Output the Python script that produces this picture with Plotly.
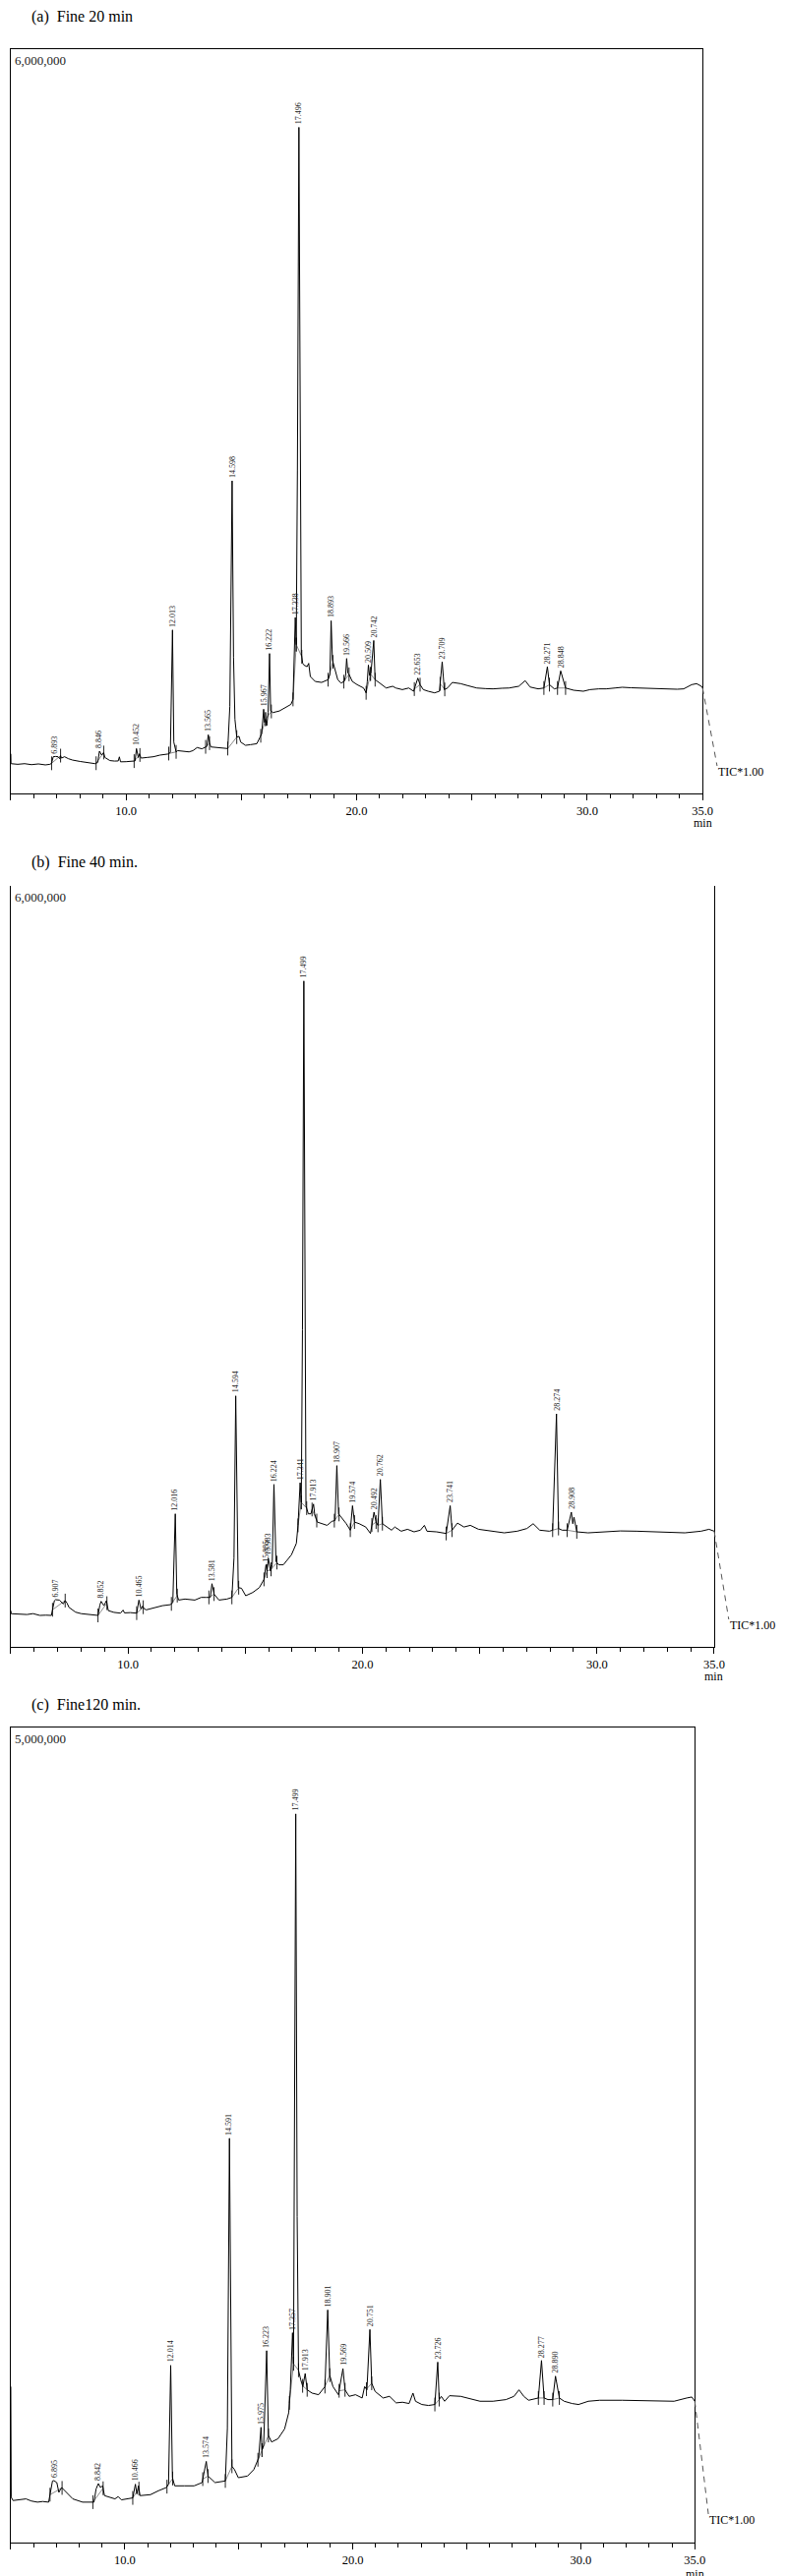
import numpy as np
import plotly.graph_objects as go

W, H = 800, 2620
SERIF = "Liberation Serif, 'Times New Roman', serif"

# TIC chromatograms: (retention time [min], intensity [x1000 counts])
fine20 = [
    (5.00, 320), (5.01, 240), (5.30, 235), (5.60, 240), (5.90, 232), (6.20, 238), (6.50, 230),
    (6.70, 235), (6.77, 243), (6.84, 296), (6.95, 298), (7.05, 296), (7.12, 280), (7.16, 305),
    (7.20, 285), (7.33, 296), (7.50, 280), (7.68, 269), (8.00, 258), (8.30, 252), (8.66, 240),
    (8.77, 250), (8.846, 341), (8.94, 309), (9.03, 330), (9.08, 290), (9.30, 265), (9.50, 261),
    (9.66, 262), (9.71, 295), (9.76, 255), (10.00, 256), (10.27, 258), (10.39, 262), (10.452, 362),
    (10.53, 290), (10.58, 320), (10.65, 285), (10.90, 290), (11.19, 296), (11.47, 309), (11.82, 318),
    (11.92, 330), (12.013, 1318), (12.07, 414), (12.17, 335), (12.24, 345), (12.50, 340), (12.73, 335),
    (12.90, 345), (13.08, 370), (13.29, 360), (13.43, 375), (13.50, 378), (13.565, 473), (13.62, 405),
    (13.68, 375), (13.99, 367), (14.20, 362), (14.41, 362), (14.50, 700), (14.598, 2520), (14.66, 1100),
    (14.72, 599), (14.80, 454), (14.90, 460), (14.97, 414), (15.18, 388), (15.39, 393), (15.67, 401),
    (15.81, 454), (15.88, 480), (15.967, 679), (16.00, 573), (16.05, 599), (16.10, 547), (16.16, 652),
    (16.222, 1128), (16.27, 665), (16.37, 652), (16.65, 665), (16.94, 692), (17.15, 718), (17.24, 758),
    (17.29, 1100), (17.338, 1418), (17.38, 1200), (17.43, 2600), (17.496, 5370), (17.55, 2400),
    (17.60, 1128), (17.66, 1049), (17.71, 1035), (17.85, 1022), (17.92, 1049), (17.99, 943),
    (18.20, 903), (18.48, 895), (18.76, 917), (18.84, 960), (18.893, 1392), (18.95, 1075), (19.04, 1009),
    (19.18, 917), (19.32, 890), (19.46, 903), (19.52, 950), (19.566, 1088), (19.62, 969), (19.67, 960),
    (19.81, 903), (20.02, 877), (20.30, 850), (20.41, 811), (20.46, 900), (20.509, 1035), (20.56, 950),
    (20.62, 970), (20.742, 1233), (20.80, 917), (21.00, 890), (21.28, 850), (21.56, 864), (21.70, 850),
    (21.98, 837), (22.26, 850), (22.47, 824), (22.653, 930), (22.75, 877), (22.89, 837), (23.10, 824),
    (23.38, 811), (23.59, 824), (23.709, 1062), (23.80, 837), (23.94, 850), (24.15, 895), (24.51, 885),
    (24.80, 870), (25.21, 850), (25.60, 845), (25.91, 843), (26.30, 848), (26.61, 850), (27.03, 864),
    (27.31, 909), (27.52, 858), (27.87, 843), (28.12, 850), (28.271, 1022), (28.36, 877), (28.45, 860),
    (28.57, 843), (28.71, 850), (28.848, 988), (29.06, 850), (29.41, 832), (29.83, 824), (30.12, 837),
    (30.50, 843), (30.82, 843), (31.20, 850), (31.52, 856), (31.90, 852), (32.22, 850), (32.60, 846),
    (32.92, 843), (33.30, 840), (33.62, 837), (33.90, 840), (34.18, 843), (34.53, 877), (34.74, 885),
    (34.95, 864), (35.00, 850),
]

fine40 = [
    (5.00, 286), (5.02, 261), (5.08, 261), (5.40, 258), (5.69, 255), (5.95, 262), (6.24, 248),
    (6.50, 250), (6.73, 248), (6.86, 364), (6.907, 372), (7.07, 369), (7.15, 350), (7.24, 338),
    (7.32, 365), (7.40, 345), (7.48, 312), (7.76, 274), (8.00, 262), (8.31, 255), (8.72, 248),
    (8.80, 330), (8.852, 359), (8.92, 340), (8.97, 325), (9.08, 364), (9.16, 286), (9.40, 272),
    (9.68, 266), (9.79, 290), (9.85, 268), (10.10, 270), (10.37, 266), (10.465, 369), (10.55, 300),
    (10.62, 322), (10.69, 300), (10.78, 292), (11.10, 305), (11.47, 325), (11.82, 333), (11.91, 351),
    (12.016, 1049), (12.08, 416), (12.16, 369), (12.43, 377), (12.85, 369), (13.12, 390), (13.33, 390),
    (13.51, 390), (13.581, 498), (13.67, 416), (13.88, 369), (14.22, 377), (14.43, 390), (14.52, 700),
    (14.594, 1979), (14.66, 900), (14.70, 467), (14.84, 462), (15.02, 403), (15.32, 429), (15.60, 467),
    (15.80, 532), (15.885, 648), (15.93, 597), (15.983, 700), (16.08, 597), (16.15, 648), (16.224, 1281),
    (16.31, 674), (16.42, 648), (16.63, 648), (16.97, 726), (17.18, 816), (17.25, 958), (17.341, 1294),
    (17.39, 1139), (17.44, 2500), (17.499, 5250), (17.55, 2300), (17.59, 1113), (17.69, 1049),
    (17.80, 1049), (17.913, 1126), (17.96, 1049), (18.07, 984), (18.28, 971), (18.49, 958), (18.69, 989),
    (18.83, 997), (18.907, 1429), (18.98, 1049), (19.09, 1023), (19.31, 971), (19.48, 920),
    (19.574, 1113), (19.66, 984), (19.86, 971), (20.14, 945), (20.34, 894), (20.492, 1062), (20.58, 984),
    (20.66, 958), (20.762, 1320), (20.85, 971), (21.03, 945), (21.24, 920), (21.38, 945), (21.65, 912),
    (21.92, 927), (22.20, 907), (22.47, 920), (22.64, 958), (22.75, 912), (23.16, 907), (23.57, 894),
    (23.741, 1113), (23.82, 920), (24.05, 976), (24.33, 945), (24.60, 958), (24.95, 927), (25.50, 912),
    (26.05, 899), (26.60, 912), (27.01, 933), (27.28, 971), (27.56, 920), (27.97, 912), (28.11, 920),
    (28.274, 1837), (28.36, 933), (28.52, 920), (28.73, 920), (28.908, 1062), (28.97, 971),
    (29.02, 1023), (29.14, 907), (29.62, 899), (30.31, 907), (31.00, 914), (31.69, 912), (32.37, 907),
    (33.06, 899), (33.75, 899), (34.44, 912), (34.78, 927), (35.00, 912),
]

fine120 = [
    (5.00, 957), (5.02, 278), (5.10, 258), (5.40, 262), (5.67, 268), (5.90, 255), (6.17, 248),
    (6.40, 252), (6.66, 248), (6.83, 378), (6.895, 380), (7.02, 368), (7.11, 308), (7.23, 338),
    (7.37, 318), (7.72, 268), (8.15, 248), (8.65, 248), (8.74, 328), (8.842, 362), (8.93, 338),
    (9.03, 348), (9.11, 288), (9.57, 268), (9.71, 282), (9.85, 262), (10.35, 274), (10.466, 358),
    (10.53, 298), (10.60, 348), (10.67, 288), (11.13, 294), (11.48, 318), (11.83, 338), (11.92, 360),
    (12.014, 1087), (12.09, 398), (12.19, 348), (12.61, 348), (13.04, 348), (13.39, 368), (13.574, 498),
    (13.65, 408), (13.96, 368), (14.41, 378), (14.50, 700), (14.591, 2480), (14.65, 1000), (14.70, 468),
    (14.81, 448), (14.98, 398), (15.38, 408), (15.66, 448), (15.87, 518), (15.975, 707), (16.02, 567),
    (16.09, 597), (16.223, 1177), (16.30, 657), (16.44, 617), (16.72, 637), (17.01, 697), (17.19, 797),
    (17.26, 937), (17.357, 1287), (17.40, 1097), (17.44, 2300), (17.499, 4470), (17.56, 2000),
    (17.62, 1057), (17.72, 997), (17.81, 957), (17.913, 1037), (18.00, 937), (18.21, 917), (18.50, 907),
    (18.78, 957), (18.901, 1427), (18.99, 1027), (19.13, 957), (19.37, 907), (19.569, 1067),
    (19.66, 937), (19.84, 897), (20.12, 907), (20.41, 887), (20.52, 957), (20.62, 937), (20.751, 1307),
    (20.83, 977), (20.98, 927), (21.33, 887), (21.61, 897), (21.90, 857), (22.18, 861), (22.47, 853),
    (22.64, 917), (22.75, 867), (23.03, 847), (23.32, 841), (23.60, 847), (23.726, 1107), (23.79, 877),
    (23.88, 897), (24.03, 867), (24.24, 901), (24.73, 897), (25.16, 881), (25.58, 867), (26.15, 867),
    (26.72, 877), (27.07, 897), (27.29, 937), (27.50, 897), (27.71, 873), (28.14, 887), (28.277, 1117),
    (28.39, 887), (28.56, 877), (28.77, 877), (28.890, 1021), (29.06, 887), (29.27, 867), (29.62, 853),
    (29.90, 847), (30.33, 867), (30.83, 873), (31.82, 873), (32.95, 871), (34.09, 867), (34.65, 887),
    (34.87, 893), (35.00, 867),
]

# labelled retention times
peaks20 = [6.893, 8.846, 10.452, 12.013, 13.565, 14.598, 15.967, 16.222, 17.338, 17.496,
           18.893, 19.566, 20.509, 20.742, 22.653, 23.709, 28.271, 28.848]
peaks40 = [6.907, 8.852, 10.465, 12.016, 13.581, 14.594, 15.885, 15.983, 16.224, 17.341,
           17.499, 17.913, 18.907, 19.574, 20.492, 20.762, 23.741, 28.274, 28.908]
peaks120 = [6.895, 8.842, 10.466, 12.014, 13.574, 14.591, 15.975, 16.223, 17.357, 17.499,
            17.913, 18.901, 19.569, 20.751, 23.726, 28.277, 28.890]

# integration windows (start, end) in min
integ20 = [(6.77, 7.16), (8.70, 9.03), (10.35, 10.60), (11.85, 12.17), (13.45, 13.62), (14.41, 14.80),
           (15.84, 16.05), (16.05, 16.30), (17.24, 17.38), (17.38, 17.62), (18.76, 18.97), (19.44, 19.67),
           (20.41, 20.60), (20.60, 20.80), (22.50, 22.75), (23.62, 23.82), (28.12, 28.36), (28.71, 29.06)]
integ40 = [(6.78, 7.32), (8.72, 9.10), (10.37, 10.65), (11.85, 12.10), (13.45, 13.67), (14.43, 14.72),
           (15.80, 15.93), (15.93, 16.10), (16.10, 16.35), (17.25, 17.39), (17.39, 17.62), (17.85, 18.05),
           (18.80, 19.00), (19.48, 19.66), (20.40, 20.58), (20.66, 20.85), (23.57, 23.82), (28.11, 28.36),
           (28.73, 29.14)]
integ120 = [(6.72, 7.25), (8.60, 9.05), (10.35, 10.62), (11.85, 12.10), (13.42, 13.65), (14.41, 14.70),
            (15.84, 16.02), (16.02, 16.30), (17.22, 17.40), (17.40, 17.62), (17.80, 18.00), (18.78, 18.99),
            (19.40, 19.66), (20.60, 20.83), (23.60, 23.79), (28.14, 28.39), (28.77, 29.06)]

titles = ["(a)\u00a0\u00a0Fine 20 min", "(b)\u00a0\u00a0Fine 40 min.", "(c)\u00a0\u00a0Fine120 min."]
full_scale = [6000, 6000, 5000]
scale_text = ["6,000,000", "6,000,000", "5,000,000"]
tick_vals = [5, 10, 15, 20, 25, 30, 35]
tick_text = ["", "10.0", "", "20.0", "", "30.0", "35.0"]

# page geometry in pixels
PANELS = [
    dict(top=42, bottom=799, right=716, box=True, title_y=9, tic=(731, 777), min_y=829),
    dict(top=893, bottom=1667, right=728, box=False, title_y=869, tic=(743, 1645), min_y=1697),
    dict(top=1749, bottom=2578, right=708, box=True, title_y=1726, tic=(722, 2555), min_y=2610),
]


def px(x):
    return x / W


def py(y):
    return 1 - y / H


fig = go.Figure()
annotations = []
shapes = []
layout = {}

series = [fine20, fine40, fine120]
peak_sets = [peaks20, peaks40, peaks120]
integ_sets = [integ20, integ40, integ120]

for i, geo in enumerate(PANELS):
    sfx = "" if i == 0 else str(i + 1)
    xa, ya = "x" + sfx, "y" + sfx
    t = np.array([p[0] for p in series[i]])
    v = np.array([p[1] for p in series[i]])
    full = full_scale[i]

    # integration baselines (grey) and start/end marks
    bx, by, mx = [], [], []
    for s, e in integ_sets[i]:
        bx += [s, e, None]
        by += [np.interp(s, t, v), np.interp(e, t, v), None]
        mx += [s, e]
    fig.add_trace(go.Scatter(x=bx, y=by, mode="lines", line=dict(color="#8a8a8a", width=1),
                             xaxis=xa, yaxis=ya, hoverinfo="skip", showlegend=False))
    fig.add_trace(go.Scatter(x=mx, y=np.interp(mx, t, v), mode="markers",
                             marker=dict(symbol="line-ns", size=10, line=dict(color="#222", width=1)),
                             xaxis=xa, yaxis=ya, hoverinfo="skip", showlegend=False))

    # the chromatogram itself
    fig.add_trace(go.Scatter(x=t, y=v, mode="lines", line=dict(color="#000", width=1),
                             xaxis=xa, yaxis=ya, hoverinfo="skip", showlegend=False))

    for rt in peak_sets[i]:
        annotations.append(dict(x=rt, y=float(np.interp(rt, t, v)), xref=xa, yref=ya, text=f"{rt:.3f}",
                                textangle=-90, showarrow=False, xanchor="center", yanchor="bottom",
                                yshift=1, font=dict(family=SERIF, size=8, color="#222")))

    layout["xaxis" + sfx] = dict(
        domain=[px(3), px(geo["right"])], range=[5, 35], anchor=ya,
        showline=True, linecolor="#000", linewidth=1, mirror=geo["box"],
        ticks="outside", tickvals=tick_vals, ticktext=tick_text, ticklen=6, tickwidth=1, tickcolor="#000",
        minor=dict(dtick=1, tick0=5, ticks="outside", ticklen=3.5, tickwidth=1, tickcolor="#000"),
        tickfont=dict(family=SERIF, size=12.5, color="#000"), showgrid=False, zeroline=False,
    )
    layout["yaxis" + sfx] = dict(
        domain=[py(geo["bottom"]), py(geo["top"])], range=[0, full], anchor=xa,
        showline=True, linecolor="#000", linewidth=1, mirror=True,
        ticks="", showticklabels=False, showgrid=False, zeroline=False,
    )

    annotations.append(dict(x=px(22), y=py(geo["title_y"]), xref="paper", yref="paper", text=titles[i],
                            showarrow=False, xanchor="left", yanchor="middle",
                            font=dict(family=SERIF, size=16, color="#000")))
    annotations.append(dict(x=px(5), y=py(geo["top"] + 2), xref="paper", yref="paper", text=scale_text[i],
                            showarrow=False, xanchor="left", yanchor="top",
                            font=dict(family=SERIF, size=13, color="#1a1a1a")))
    annotations.append(dict(x=35, y=py(geo["min_y"]), xref=xa, yref="paper", text="min",
                            showarrow=False, xanchor="center", yanchor="middle", borderpad=0,
                            font=dict(family=SERIF, size=12, color="#000")))
    tx, ty = geo["tic"]
    annotations.append(dict(x=px(tx), y=py(ty), xref="paper", yref="paper", text="TIC*1.00",
                            showarrow=False, xanchor="left", yanchor="middle", borderpad=0,
                            font=dict(family=SERIF, size=12, color="#000")))
    end_y = geo["bottom"] - v[-1] / full * (geo["bottom"] - geo["top"])
    shapes.append(dict(type="line", xref="paper", yref="paper",
                       x0=px(geo["right"]), y0=py(end_y), x1=px(tx), y1=py(ty - 6),
                       line=dict(color="#555", width=1, dash="6px,5px")))

fig.update_layout(
    width=W, height=H, margin=dict(l=0, r=0, t=0, b=0),
    paper_bgcolor="white", plot_bgcolor="white", showlegend=False,
    annotations=annotations, shapes=shapes, **layout,
)

fig.write_html("out.html")
